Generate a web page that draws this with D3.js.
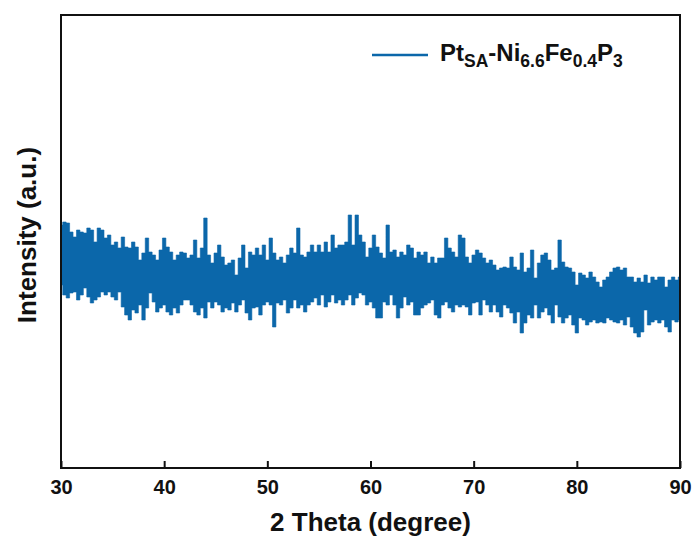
<!DOCTYPE html>
<html>
<head>
<meta charset="utf-8">
<title>XRD</title>
<script src="https://cdn.jsdelivr.net/npm/d3@7"></script>
<style>
body { margin: 0; background: #fff; }
text { font-family: Arial, "Liberation Sans", sans-serif; font-weight: bold; fill: #111; }
</style>
</head>
<body>
<script>
// sampled 2-theta grid (deg) and the high / low of the noisy trace in each step
var thetaStart = 30, thetaStep = 1 / 3;
var upper = [243,246,245,236,231,238,236,235,240,238,226,240,238,230,233,223,226,220,231,221,220,226,221,208,215,230,216,213,208,218,230,221,216,208,213,216,215,
  210,213,228,210,220,250,213,205,215,223,211,203,205,208,193,210,223,200,216,213,220,213,223,208,230,215,208,211,205,213,220,215,240,213,211,216,223,
  216,223,216,226,216,233,220,223,223,226,253,223,253,233,226,211,220,233,221,215,210,243,216,218,211,216,213,223,220,210,216,213,216,205,211,205,210,
  210,230,220,216,211,233,230,211,205,213,218,215,210,205,208,203,198,200,201,200,211,201,198,215,196,200,218,190,205,213,215,208,198,200,228,206,201,
  200,196,183,195,193,190,196,191,186,181,188,191,196,200,201,198,200,191,191,186,190,186,193,185,191,188,191,191,181,188,191,188,191];
var lower = [183,173,170,175,176,168,173,180,171,165,168,171,176,173,176,171,168,176,161,153,148,158,155,163,148,160,175,166,156,160,163,156,153,160,155,163,168,
  168,163,156,153,160,150,166,160,166,163,156,160,158,165,156,163,168,155,148,160,161,153,163,166,163,141,165,163,168,155,160,168,160,163,156,163,166,
  170,163,173,161,166,173,165,168,163,168,173,163,170,175,173,163,166,160,150,150,166,163,173,163,150,160,171,163,166,153,153,160,163,165,168,153,150,
  163,166,160,156,163,161,163,161,153,165,166,153,168,163,156,163,156,151,163,160,155,145,156,135,145,153,150,163,150,156,160,153,145,163,151,145,150,
  153,143,135,150,148,143,146,148,145,146,145,150,148,146,145,148,143,151,141,135,131,136,158,143,146,148,145,148,141,136,148,146,148];
var xTicks = [30, 40, 50, 60, 70, 80, 90];
var xDomain = [30, 90];
var yDomain = [0, 453];

var margin = {top: 15, right: 14, bottom: 74, left: 61};
var width = 694 - margin.left - margin.right,
    height = 542 - margin.top - margin.bottom;
var blue = "#0b67aa";

var svg = d3.select("body").append("svg")
  .attr("width", 694).attr("height", 542);

var g = svg.append("g")
  .attr("transform", "translate(" + margin.left + "," + margin.top + ")");

var xScale = d3.scaleLinear().domain(xDomain).range([0, width]);
var yScale = d3.scaleLinear().domain(yDomain).range([height, 0]);

var trace = upper.map(function(v, i) {
  return {t: thetaStart + i * thetaStep, hi: v, lo: lower[i]};
});

g.append("clipPath").attr("id", "clip")
  .append("rect").attr("width", width).attr("height", height);

// dense scan drawn as the band between the highs and lows of each step
var band = d3.area()
  .x(function(d) { return xScale(d.t); })
  .y0(function(d) { return yScale(d.lo); })
  .y1(function(d) { return yScale(d.hi); })
  .curve(d3.curveStep);

g.append("path")
  .datum(trace)
  .attr("clip-path", "url(#clip)")
  .attr("fill", blue)
  .attr("stroke", blue)
  .attr("stroke-width", 0.6)
  .attr("d", band);

var xAxis = g.append("g")
  .attr("transform", "translate(0," + height + ")")
  .call(d3.axisBottom(xScale).tickValues(xTicks).tickSizeInner(-7).tickSizeOuter(0).tickPadding(12));
xAxis.select(".domain").remove();
xAxis.selectAll("line").attr("stroke", "#111").attr("stroke-width", 2);
xAxis.selectAll("text").attr("font-size", "20px").attr("fill", "#111")
  .attr("font-family", "Arial, 'Liberation Sans', sans-serif");

g.append("rect")
  .attr("width", width).attr("height", height)
  .attr("fill", "none").attr("stroke", "#111").attr("stroke-width", 2);

svg.append("text")
  .attr("x", margin.left + width / 2).attr("y", 531)
  .attr("text-anchor", "middle").attr("font-size", "26px")
  .text("2 Theta (degree)");

svg.append("text")
  .attr("transform", "translate(36,235) rotate(-90)")
  .attr("text-anchor", "middle").attr("font-size", "26px")
  .text("Intensity (a.u.)");

// legend
var legend = svg.append("g").attr("transform", "translate(372,55)");
legend.append("line").attr("x1", 0).attr("x2", 56)
  .attr("stroke", blue).attr("stroke-width", 2.5);
var lt = legend.append("text").attr("x", 68).attr("y", 6).attr("font-size", "24px");
var parts = [["Pt", 0], ["SA", 1], ["-Ni", 0], ["6.6", 1], ["Fe", 0], ["0.4", 1], ["P", 0], ["3", 1]];
var prev = 0;
parts.forEach(function(p) {
  var shift = p[1] ? 6 : 0;
  lt.append("tspan").attr("dy", shift - prev)
    .attr("font-size", p[1] ? "17.5px" : "24px").text(p[0]);
  prev = shift;
});
</script>
</body>
</html>
